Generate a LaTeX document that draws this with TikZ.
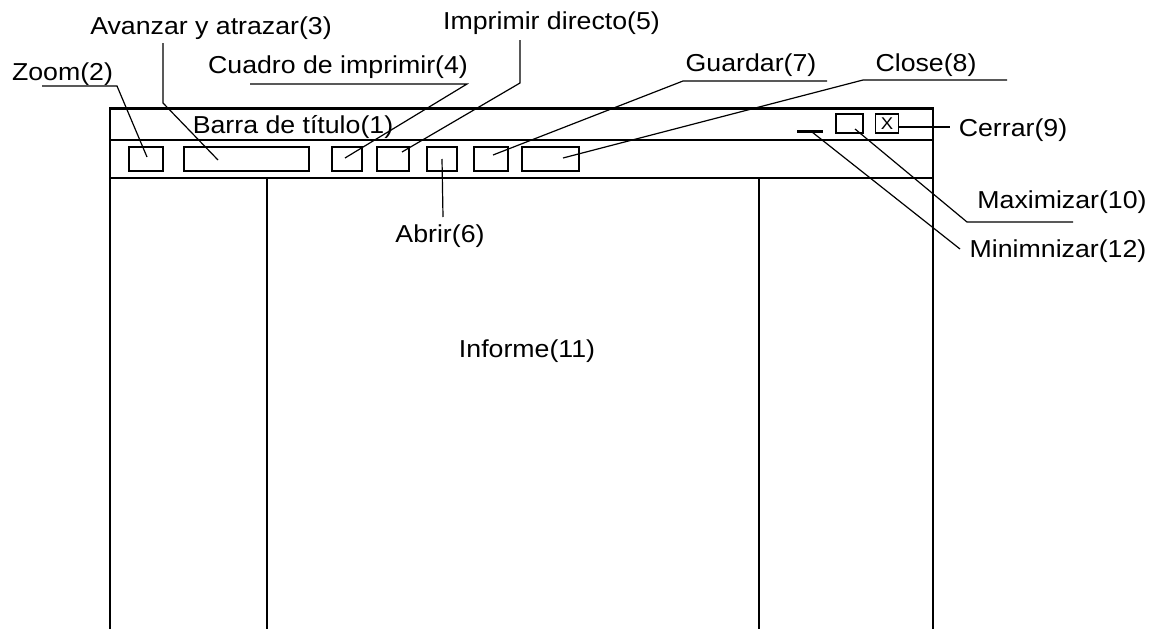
\documentclass[tikz,border=0pt]{standalone}
\usepackage{fontspec}
\setmainfont{Liberation Sans}[FakeStretch=1.09]
\begin{document}
\begin{tikzpicture}[x=1pt, y=-1pt,
    lbl/.style={inner sep=0, anchor=base, font=\fontsize{24.5}{28}\selectfont},
    btn/.style={draw, line width=1.2pt, minimum width=#1, minimum height=24, inner sep=0},
    lead/.style={line width=1.2pt}]
  \useasboundingbox (0,0) rectangle (1158,629);
  \def\L{110}
  \def\R{933}
  \def\T{108}
  \def\B{629}
  % window frame
  \draw[line width=1.3pt] (\L,\B) -- (\L,\T) -- (\R,\T) -- (\R,\B);
  \draw[line width=3pt] (\L,\T) -- (\R,\T);
  \draw[line width=1.2pt] (\L,140) -- (\R,140);
  \draw[line width=1.2pt] (\L,178) -- (\R,178);
  \draw[line width=1.3pt] (267,178) -- (267,\B);
  \draw[line width=1.3pt] (759,178) -- (759,\B);
  % tool bar
  \node[btn=34] (zoombox) at (146,159) {};
  \node[btn=125] (avbox) at (246.5,159) {};
  \node[btn=30] (cuadbox) at (347,159) {};
  \node[btn=32] (dirbox) at (393,159) {};
  \node[btn=30] (abrbox) at (442,159) {};
  \node[btn=34] (guabox) at (491,159) {};
  \node[btn=57] (clobox) at (550.5,159) {};
  % title bar buttons
  \draw[line width=3pt] (797,131) coordinate (minl) -- (823,131) coordinate (minr);
  \node[btn=27, minimum height=19] (maxbox) at (849.5,123.5) {};
  \node[btn=23, minimum height=19, font=\fontsize{17}{18}\selectfont] (xbox) at (887,123.5) {X};
  % labels
  \node[lbl] (titulo) at (293,133) {Barra de título(1)};
  \node[lbl] (zoom) at (62.5,80) {Zoom(2)};
  \node[lbl] (avanzar) at (211,34) {Avanzar y atrazar(3)};
  \node[lbl] (cuadro) at (338,73) {Cuadro de imprimir(4)};
  \node[lbl] (directo) at (551.5,29) {Imprimir directo(5)};
  \node[lbl] (abrir) at (440,242) {Abrir(6)};
  \node[lbl] (guardar) at (751,71) {Guardar(7)};
  \node[lbl] (close) at (926,71) {Close(8)};
  \node[lbl] (cerrar) at (1013,136) {Cerrar(9)};
  \node[lbl] (maxi) at (1062,208) {Maximizar(10)};
  \node[lbl] (informe) at (527,357) {Informe(11)};
  \node[lbl] (mini) at (1058,257) {Minimnizar(12)};
  % leaders
  \coordinate (zoomtip) at (147,157);
  \coordinate (avtip) at (218,160);
  \coordinate (cuadtip) at (345,158);
  \coordinate (dirtip) at (402,152);
  \coordinate (guatip) at (493,155);
  \coordinate (clotip) at (563,158);
  \coordinate (maxtip) at (855,129);
  \coordinate (cerrtip) at (950,127);
  \draw[lead] (42,86) -- (117,86) -- (zoomtip);
  \draw[lead] (163,43) -- (163,103) -- (avtip);
  \draw[lead] (250,84) -- (467,84) -- (cuadtip);
  \draw[lead] (520,40) -- (520,83) -- (dirtip);
  \draw[lead] (abrbox.center) -- (443,217);
  \draw[lead] (827,81) -- (683,81) -- (guatip);
  \draw[lead] (1007,80) -- (863,80) -- (clotip);
  \draw[lead] (xbox.east |- cerrtip) -- (cerrtip);
  \draw[lead] (1073,222) -- (967,222) -- (maxtip);
  \draw[lead] (960,249) -- (812,132);
\end{tikzpicture}
\end{document}
